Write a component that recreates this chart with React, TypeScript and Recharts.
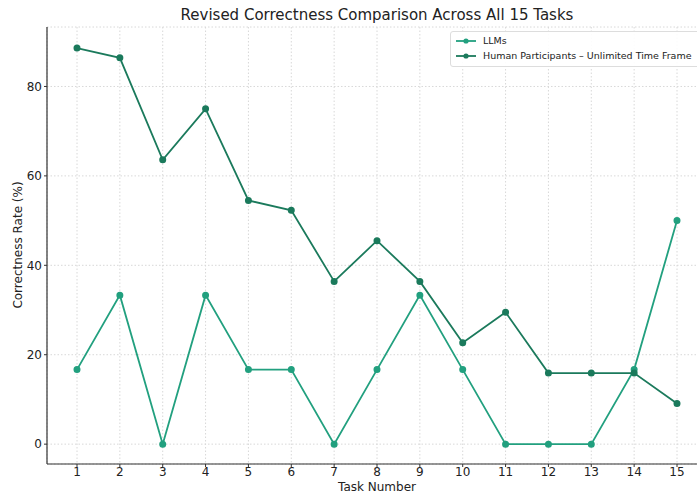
import React from 'react';
import { LineChart, Line, XAxis, YAxis, CartesianGrid } from 'recharts';

const tasks = [1, 2, 3, 4, 5, 6, 7, 8, 9, 10, 11, 12, 13, 14, 15];
const llms = [16.67, 33.33, 0, 33.33, 16.67, 16.67, 0, 16.67, 33.33, 16.67, 0, 0, 0, 16.67, 50];
const humans = [88.6, 86.4, 63.6, 75.0, 54.5, 52.3, 36.4, 45.5, 36.4, 22.7, 29.5, 15.9, 15.9, 15.9, 9.1];
const yTicks = [0, 20, 40, 60, 80];

const LLM_COLOR = '#22a07f';
const HUMAN_COLOR = '#1b7a5c';
const FONT = '"DejaVu Sans", sans-serif';

const data = tasks.map((t, i) => ({ task: t, llm: llms[i], human: humans[i] }));

const App: React.FC = () => {
  return (
    <div style={{ position: 'absolute', left: 0, top: 0, width: 697, height: 495, background: '#fff', fontFamily: FONT, overflow: 'hidden' }}>
      <LineChart
        width={697}
        height={495}
        data={data}
        margin={{ top: 27, right: -10, bottom: 0, left: 0 }}
      >
        <CartesianGrid stroke="#d8d8d8" strokeDasharray="1.5 2" />
        <XAxis
          dataKey="task"
          type="number"
          domain={[0.3, 15.7]}
          ticks={tasks}
          allowDataOverflow
          height={31}
          tick={{ fill: '#222', fontSize: 12, fontFamily: FONT }}
          tickLine={{ stroke: '#333' }}
          tickSize={3}
          tickMargin={0}
          axisLine={{ stroke: '#333', strokeWidth: 1.2 }}
        />
        <YAxis
          type="number"
          domain={[-4.44, 93.3]}
          ticks={yTicks}
          allowDataOverflow
          width={47}
          tick={{ fill: '#222', fontSize: 12, fontFamily: FONT }}
          tickLine={{ stroke: '#333' }}
          tickSize={3}
          axisLine={{ stroke: '#333', strokeWidth: 1.2 }}
        />
        <Line dataKey="llm" stroke={LLM_COLOR} strokeWidth={1.8} dot={{ r: 2.6, fill: LLM_COLOR, stroke: LLM_COLOR }} isAnimationActive={false} />
        <Line dataKey="human" stroke={HUMAN_COLOR} strokeWidth={1.8} dot={{ r: 2.6, fill: HUMAN_COLOR, stroke: HUMAN_COLOR }} isAnimationActive={false} />
      </LineChart>
      <div style={{ position: 'absolute', top: 6, left: 47, width: 660, textAlign: 'center', fontSize: 15, color: '#222' }}>
        Revised Correctness Comparison Across All 15 Tasks
      </div>
      <div style={{ position: 'absolute', top: 480, left: 47, width: 660, textAlign: 'center', fontSize: 12, lineHeight: '14px', color: '#222' }}>
        Task Number
      </div>
      <div style={{ position: 'absolute', left: 18, top: 245, transform: 'translate(-50%, -50%) rotate(-90deg)', whiteSpace: 'nowrap', fontSize: 12, color: '#222' }}>
        Correctness Rate (%)
      </div>
      <div style={{ position: 'absolute', top: 31, left: 450, width: 260, height: 34, background: 'rgba(255,255,255,0.9)', border: '1px solid #ddd', borderRadius: 3, fontSize: 9.5, color: '#222' }}>
        {[{ name: 'LLMs', color: LLM_COLOR }, { name: 'Human Participants – Unlimited Time Frame', color: HUMAN_COLOR }].map((s, i) => (
          <div key={s.name} style={{ position: 'absolute', left: 4, top: 3 + i * 15, display: 'flex', alignItems: 'center', whiteSpace: 'nowrap' }}>
            <svg width={22} height={10} style={{ marginRight: 6 }}>
              <line x1={1} y1={5} x2={21} y2={5} stroke={s.color} strokeWidth={1.8} />
              <circle cx={11} cy={5} r={2.6} fill={s.color} />
            </svg>
            {s.name}
          </div>
        ))}
      </div>
    </div>
  );
};

export default App;
